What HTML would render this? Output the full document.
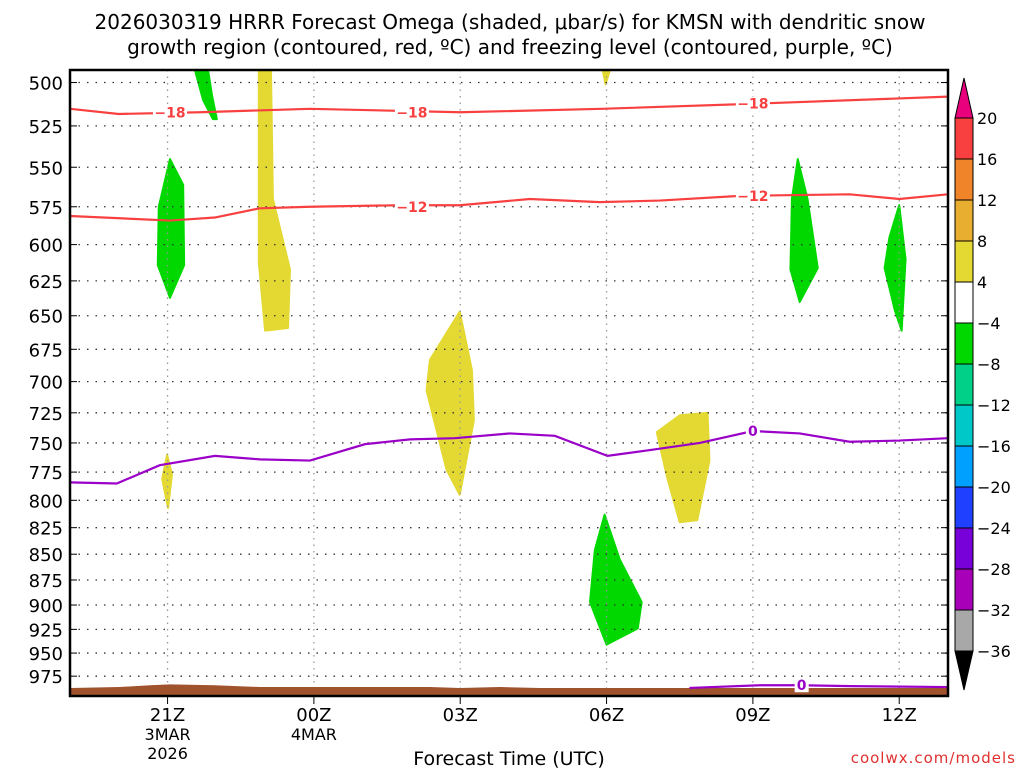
<!DOCTYPE html>
<html><head><meta charset="utf-8"><style>
html,body{margin:0;padding:0;background:#fff;}
svg{display:block;font-family:"DejaVu Sans","Liberation Sans",sans-serif;}
</style></head><body>
<svg id="chart" width="1024" height="768" viewBox="0 0 1024 768" xmlns="http://www.w3.org/2000/svg">
<text x="510" y="29" font-size="20" text-anchor="middle">2026030319 HRRR Forecast Omega (shaded, μbar/s) for KMSN with dendritic snow</text>
<text x="510" y="54" font-size="20" text-anchor="middle">growth region (contoured, red, ºC) and freezing level (contoured, purple, ºC)</text>
<g id="plot"></g>
<text x="509" y="765" font-size="19" text-anchor="middle">Forecast Time (UTC)</text>
<text x="1016" y="763" font-size="15" fill="#e03030" text-anchor="end" letter-spacing="1">coolwx.com/models</text>
</svg>
<script>
// hour offsets are from 19Z 3 MAR 2026
const pressureTicks=[500,525,550,575,600,625,650,675,700,725,750,775,800,825,850,875,900,925,950,975];
const timeTickHours=[2,5,8,11,14,17];
const timeTickLabels=[["21Z","3MAR","2026"],["00Z","4MAR"],["03Z"],["06Z"],["09Z"],["12Z"]];
const colorLevels=[20,16,12,8,4,-4,-8,-12,-16,-20,-24,-28,-32,-36];
const colorFills=["#f84040","#f08428","#e8ae30","#e3d932","#ffffff","#00d800","#00d088","#00c8c8","#00a0ff","#2040ff","#7800d8","#a800b8","#a8a8a8"];
const shadeGreen1=[[2.56,493],[2.83,493],[2.91,507],[3.01,521],[2.93,521],[2.73,510]];
const shadeYellow1=[[3.87,493],[4.12,493],[4.16,570],[4.51,617],[4.47,659],[4.0,661],[3.87,612]];
const shadeGreen2=[[2.05,545],[2.32,561],[2.34,614],[2.05,637],[1.80,614],[1.82,575]];
const shadeYellow2=[[1.99,760],[2.09,777],[2.01,807],[1.89,781]];
const shadeYellow3=[[7.99,647],[8.24,691],[8.28,731],[7.99,795],[7.72,773],[7.31,707],[7.38,683]];
const shadeYellow4=[[10.92,493],[11.07,493],[10.98,501]];
const shadeYellow5=[[12.03,741],[12.5,727],[13.07,725],[13.11,765],[12.86,818],[12.5,820],[12.25,781]];
const shadeGreen3=[[10.96,813],[11.27,855],[11.72,897],[11.64,924],[11.0,941],[10.66,897],[10.76,846]];
const shadeGreen4=[[14.92,545],[15.12,570],[15.33,616],[14.96,640],[14.77,617],[14.80,570]];
const shadeGreen5=[[17.0,574],[17.13,610],[17.05,661],[16.91,646],[16.70,616],[16.80,595]];
const iso18Hours=[0,1,2.67,4.92,8,10.9,14.1,18];
const iso18Press=[515,518,517,515,517,515,512,508];
const iso12Hours=[0,2.05,2.97,3.89,4.92,6.76,7.99,9.43,10.86,12.09,13.73,15.98,17.0,18];
const iso12Press=[581,584,582,576,575,574,574,570,572,571,568,567,570,567];
const frzHours=[0,0.96,1.84,2.97,3.89,4.92,6.05,6.97,7.89,9.02,9.94,11.02,11.89,12.91,14.0,14.96,15.98,17.0,18];
const frzPress=[784,785,769,761,764,765,751,747,746,742,744,761,756,750,740,742,749,748,746];
const frz2Hours=[12.7,14.15,14.96,16,18];
const frz2Press=[988,985,985,986,987];
const sfcHours=[0,1.02,1.64,2.05,2.97,3.89,7.38,7.99,8.81,9.63,18];
const sfcPress=[988,987,985,984,985,987,987,988,987,988,988];

const NS="http://www.w3.org/2000/svg";
const L=70,R=948,T=70,B=696,P0=493,P1=997,H0=0,H1=18;
const xS=h=>L+(h-H0)/(H1-H0)*(R-L);
const yS=p=>T+Math.log(p/P0)/Math.log(P1/P0)*(B-T);
const plot=document.getElementById('plot');
function mk(tag,attrs,parent){const e=document.createElementNS(NS,tag);for(const k in attrs)e.setAttribute(k,attrs[k]);(parent||plot).appendChild(e);return e;}
const defs=mk('defs',{});const cp=mk('clipPath',{id:'clip'},defs);mk('rect',{x:L,y:T,width:R-L,height:B-T},cp);
const g=mk('g',{'clip-path':'url(#clip)'});


const shapes=[[shadeGreen1,"#00d800","green-area-1"],[shadeYellow1,"#e3d932","yellow-area-1"],[shadeGreen2,"#00d800","green-area-2"],[shadeYellow2,"#e3d932","yellow-area-2"],[shadeYellow3,"#e3d932","yellow-area-3"],[shadeYellow4,"#e3d932","yellow-area-4"],[shadeYellow5,"#e3d932","yellow-area-5"],[shadeGreen3,"#00d800","green-area-3"],[shadeGreen4,"#00d800","green-area-4"],[shadeGreen5,"#00d800","green-area-5"]];
shapes.forEach(s=>{const pts=s[0].map(v=>xS(v[0])+','+yS(v[1])).join(' ');
 const e=mk('polygon',{points:pts,fill:s[1],'stroke':s[1],'stroke-width':2,'stroke-linejoin':'round'},g);
 
 });
pressureTicks.forEach(p=>{const y=yS(p);
 const e=mk('line',{x1:L,x2:R,y1:y,y2:y,stroke:'#333','stroke-width':1.3,'stroke-dasharray':'1.5 7'},g);
 
 
 mk('line',{x1:L,x2:L+7,y1:y,y2:y,stroke:'#000','stroke-width':1});
 mk('line',{x1:R-7,x2:R,y1:y,y2:y,stroke:'#000','stroke-width':1});
 const t=mk('text',{x:63,y:y+7,'font-size':18,'text-anchor':'end'});t.textContent=p;
 
 });
timeTickHours.forEach((h,i)=>{const x=xS(h);
 const e=mk('line',{x1:x,x2:x,y1:T,y2:B,stroke:'#999','stroke-width':1.3,'stroke-dasharray':'1.5 5'},g);
 
 
 mk('line',{x1:x,x2:x,y1:B,y2:B+8,stroke:'#000','stroke-width':1});
 timeTickLabels[i].forEach((s,j)=>{const t=mk('text',{x:x,y:B+25+j*19,'font-size':j==0?18:16,'text-anchor':'middle'});t.textContent=s;
  
  });});
let tp='M'+xS(sfcHours[0])+','+B+' '+sfcHours.map((h,i)=>'L'+xS(h)+','+yS(sfcPress[i])).join(' ')+' L'+xS(sfcHours[sfcHours.length-1])+','+B+'Z';
const terr=mk('path',{d:tp,fill:'#a0522d'},g);


function line(hs,ps,col,name){const d=hs.map((h,i)=>(i?'L':'M')+xS(h)+','+yS(ps[i])).join(' ');
 const e=mk('path',{d:d,fill:'none',stroke:col,'stroke-width':2.2},g);
 
 }
line(iso18Hours,iso18Press,'#f84040','isotherm-minus-18');
line(iso12Hours,iso12Press,'#f84040','isotherm-minus-12');
line(frzHours,frzPress,'#9a00c8','freezing-level');
line(frz2Hours,frz2Press,'#9a00c8','freezing-level-surface');
function lab(h,p,s,col){const x=xS(h),y=yS(p);
 mk('rect',{x:x-s.length*5-2,y:y-7,width:s.length*10+4,height:14,fill:'#fff'},g);
 const t=mk('text',{x:x,y:y+5,'font-size':14,'font-weight':'bold',fill:col,'text-anchor':'middle'},g);t.textContent=s;
 
 }
lab(2.05,517,'−18','#f84040');lab(7.01,517,'−18','#f84040');lab(14.0,512,'−18','#f84040');
lab(7.01,575,'−12','#f84040');lab(14.0,568,'−12','#f84040');
lab(14.0,740,'0','#9a00c8');lab(15.0,985,'0','#9a00c8');
const fr=mk('rect',{x:L,y:T,width:R-L,height:B-T,fill:'none',stroke:'#000','stroke-width':2.5});


const cbX=955,cbW=18,cbT=118,cbStep=41;
const cb=mk('g',{});


mk('polygon',{points:`${cbX},${cbT} ${cbX+cbW},${cbT} ${cbX+cbW/2},78`,fill:'#e8007c',stroke:'#000','stroke-width':1},cb);
colorFills.forEach((c,i)=>{const r=mk('rect',{x:cbX,y:cbT+i*cbStep,width:cbW,height:cbStep,fill:c,stroke:'#000','stroke-width':1},cb);
 
 });
const yb=cbT+colorFills.length*cbStep;
mk('polygon',{points:`${cbX},${yb} ${cbX+cbW},${yb} ${cbX+cbW/2},690`,fill:'#000',stroke:'#000','stroke-width':1},cb);
colorLevels.forEach((v,i)=>{const t=mk('text',{x:977,y:cbT+i*cbStep+6,'font-size':16},cb);t.textContent=v<0?'−'+(-v):v;
 
 });
</script>
</body></html>
